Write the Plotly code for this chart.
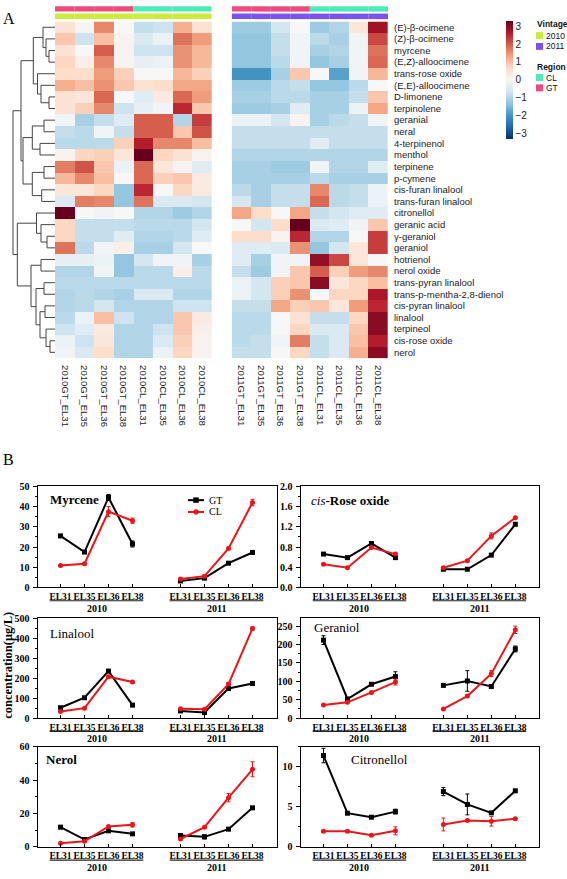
import plotly.graph_objects as go

W, H = 567, 879
SANS = "Liberation Sans, Arial, sans-serif"
SERIF = "Liberation Serif, Times New Roman, serif"

# ---------------- Panel A data ----------------
COMPOUNDS = [
    "(E)-β-ocimene", "(Z)-β-ocimene", "myrcene", "(E,Z)-alloocimene", "trans-rose oxide",
    "(E,E)-alloocimene", "D-limonene", "terpinolene", "geranial", "neral", "4-terpinenol",
    "menthol", "terpinene", "p-cymene", "cis-furan linalool", "trans-furan linalool",
    "citronellol", "geranic acid", "γ-geraniol", "geraniol", "hotrienol", "nerol oxide",
    "trans-pyran linalool", "trans-p-mentha-2,8-dienol", "cis-pyran linalool", "linalool",
    "terpineol", "cis-rose oxide", "nerol",
]
SAMPLES_2010 = ["2010GT_EL31", "2010GT_EL35", "2010GT_EL36", "2010GT_EL38",
                "2010CL_EL31", "2010CL_EL35", "2010CL_EL36", "2010CL_EL38"]
SAMPLES_2011 = ["2011GT_EL31", "2011GT_EL35", "2011GT_EL36", "2011GT_EL38",
                "2011CL_EL31", "2011CL_EL35", "2011CL_EL36", "2011CL_EL38"]
REGION_OF_COL = ["GT", "GT", "GT", "GT", "CL", "CL", "CL", "CL"]

Z_2010 = [
    [0.5, 0.05, 1.6, 0.0, -0.8, -0.7, 1.2, 0.5],
    [0.9, -0.7, 1.0, 0.1, -0.5, -0.2, 1.8, 1.4],
    [0.5, 0.0, 2.0, 0.1, -0.7, -0.7, 1.5, 1.1],
    [0.7, 0.2, 1.6, 0.1, -0.3, -0.2, 1.5, 1.1],
    [0.6, 0.6, 1.4, 0.8, 0.0, 0.0, 1.1, 0.8],
    [1.2, 1.0, 1.5, 0.9, 0.5, 0.6, 1.3, 1.3],
    [0.5, 0.4, 1.9, 0.0, -0.4, 0.3, 1.9, 1.4],
    [0.5, 0.8, 1.6, -0.7, -0.3, -0.1, 2.5, 0.9],
    [-0.1, -1.1, -0.8, -0.4, 2.0, 2.0, -1.0, 2.3],
    [-0.8, -0.9, -0.1, -0.8, 2.0, 2.0, 0.9, 2.1],
    [-0.9, -0.9, -0.9, 0.8, 2.6, 1.6, 1.6, 1.0],
    [0.1, 0.7, 0.8, 0.4, 3.3, 0.7, 0.5, 0.1],
    [1.7, 2.1, 0.9, -0.2, 1.9, 0.4, 0.1, -0.4],
    [1.1, 1.6, 1.0, 0.0, 1.9, 0.8, 0.9, 0.3],
    [0.4, 0.4, 0.7, -1.3, 2.5, 0.0, 0.7, 0.3],
    [-0.5, 1.7, 1.6, -1.3, 1.8, -0.5, -0.5, -0.6],
    [3.3, 0.0, -0.1, 0.0, -1.0, -1.0, -1.2, -1.0],
    [0.7, -0.8, -0.8, -0.8, -0.9, -0.9, -0.9, -0.6],
    [0.7, -0.8, -0.8, -0.4, -1.0, -1.0, -0.9, -0.4],
    [1.8, -0.9, -0.1, 0.2, -1.1, -1.1, -0.6, 0.0],
    [-0.3, -0.3, -0.2, -1.3, -0.6, -0.1, -0.1, -1.1],
    [-1.0, -1.0, -0.1, -1.3, -0.9, -0.9, 0.2, -0.9],
    [-0.9, -0.9, -0.9, -0.9, -0.9, -0.9, -0.9, -0.9],
    [-1.0, -0.9, -1.0, -1.1, -0.5, -0.5, -1.0, -1.0],
    [-1.0, -0.9, -0.6, -1.0, -1.0, -1.0, -0.7, -0.7],
    [-0.9, -0.2, 1.0, -0.7, -1.0, -1.0, 0.9, 0.3],
    [-0.7, -0.4, 0.3, -1.0, -1.0, -0.7, 0.9, 0.2],
    [-0.2, -0.7, 0.4, -1.0, -1.0, -0.5, 0.8, 0.1],
    [-0.1, -0.5, 0.6, -1.0, -1.0, -0.2, 0.7, 0.1],
]
Z_2011 = [
    [-1.2, -1.2, -0.6, 0.0, -1.2, -1.0, 0.4, 2.8],
    [-1.3, -1.3, -0.8, -0.1, -0.9, -1.1, -0.1, 2.2],
    [-1.3, -1.3, -0.8, -0.1, -1.1, -1.0, -0.1, 1.8],
    [-1.3, -1.3, -0.9, -0.1, -1.3, -1.1, -0.1, 1.9],
    [-2.0, -2.0, -1.1, 0.9, 0.0, -1.8, -0.1, 1.1],
    [-1.2, -1.2, -0.9, -0.8, -1.3, -1.3, -0.9, 0.0],
    [-1.1, -1.1, -0.9, -0.9, -1.1, -1.1, -0.8, 0.9],
    [-1.2, -1.2, -1.1, -0.4, -1.1, -1.1, -0.2, 1.3],
    [-0.2, -0.2, -0.6, 0.1, -1.1, -0.9, -0.8, -0.1],
    [-0.8, -0.8, -0.8, -0.8, -0.8, -0.8, -0.8, -0.8],
    [-0.8, -0.8, -0.8, -0.8, -0.4, -0.8, -0.8, -0.8],
    [-1.0, -1.0, -1.0, -1.0, -1.0, -1.0, -1.0, -1.0],
    [-1.1, -1.1, -1.2, -1.2, -0.1, -1.0, -1.0, -0.4],
    [-1.1, -1.1, -1.1, -1.1, -0.9, -1.1, -1.1, -1.1],
    [-0.9, -1.1, -0.8, -0.8, 1.6, -0.9, -0.8, -0.2],
    [-0.6, -1.1, -0.8, -0.8, 1.9, -0.9, -0.8, -0.2],
    [1.3, 0.6, 0.0, 1.3, -0.8, -0.6, -0.4, -0.4],
    [0.0, -0.6, 0.6, 3.4, -0.5, -0.4, -0.1, 0.9],
    [0.6, 0.6, 0.1, 2.5, -1.0, -1.0, 0.0, 2.3],
    [-0.4, -0.4, -0.5, 1.5, -1.3, -0.6, 0.4, 2.3],
    [-0.4, -1.1, -0.1, -0.1, 2.9, 2.2, 0.4, 0.0],
    [-0.8, -1.2, -0.1, 0.9, 2.0, 0.8, 1.4, 1.6],
    [-0.2, -0.6, 0.8, 0.9, 3.0, 0.4, 0.7, 1.0],
    [-0.2, -0.6, 0.8, 1.5, 0.0, 0.7, 0.7, 2.7],
    [-0.8, -0.8, 1.3, 0.8, 0.9, 0.4, 1.4, 2.5],
    [-0.9, -0.9, 0.0, 0.5, -0.8, -0.8, 0.7, 3.0],
    [-0.9, -0.9, 0.0, 0.7, -0.5, -0.5, 0.9, 3.0],
    [-0.9, -0.8, -0.1, 1.7, -0.8, -0.5, 1.0, 2.6],
    [-0.8, -0.8, 0.0, 0.7, -0.8, -0.5, 1.2, 3.0],
]
CB_TICKS = [3, 2, 1, 0, -1, -2, -3]
Z_LIMIT = 3.3
RDBU = ["#053061", "#2166ac", "#4393c3", "#92c5de", "#d1e5f0", "#f7f7f7",
        "#fddbc7", "#f4a582", "#d6604d", "#b2182b", "#67001f"]
REGION_COLORS = {"GT": "#EE4A7E", "CL": "#4BEBBA"}
VINTAGE_COLORS = {"2010": "#CDEB3C", "2011": "#7A52EE"}

# row dendrogram merges: (child a, child b, height); ids >= 29 refer to earlier merges
DENDRO_MERGES = [
    (2, 3, 6), (1, 29, 9), (0, 30, 12), (6, 7, 6), (5, 32, 14), (4, 33, 17.5),
    (31, 34, 21.7), (8, 9, 11), (10, 11, 15), (36, 37, 22.7), (12, 13, 11),
    (14, 15, 13.3), (39, 40, 22.7), (38, 41, 32), (35, 42, 34), (18, 19, 8),
    (17, 44, 14), (16, 45, 18.5), (20, 21, 14), (22, 23, 11), (24, 25, 10),
    (27, 28, 5), (26, 50, 9), (49, 51, 15), (48, 52, 19), (47, 53, 24),
    (46, 54, 37.7), (43, 55, 42),
]

# ---------------- Panel B data ----------------
STAGES = ["EL31", "EL35", "EL36", "EL38"]
YEARS = ["2010", "2011"]

MYRCENE_GT = [25.5, 17.5, 44.5, 21.5, 3.2, 4.6, 12.0, 17.3]
MYRCENE_GT_ERR = [0.5, 0.5, 1.5, 1.5, 0.3, 0.4, 0.6, 0.6]
MYRCENE_CL = [10.8, 11.7, 37.5, 33.0, 4.2, 5.6, 19.3, 42.0]
MYRCENE_CL_ERR = [0.3, 0.5, 2.5, 1.3, 0.3, 0.5, 0.6, 1.6]

ROSE_GT = [0.66, 0.59, 0.87, 0.59, 0.36, 0.36, 0.64, 1.25]
ROSE_GT_ERR = [0.01, 0.01, 0.02, 0.02, 0.01, 0.01, 0.01, 0.03]
ROSE_CL = [0.46, 0.39, 0.79, 0.66, 0.39, 0.53, 1.02, 1.38]
ROSE_CL_ERR = [0.01, 0.01, 0.02, 0.02, 0.02, 0.02, 0.06, 0.02]

LINALOOL_GT = [52, 102, 235, 65, 36, 28, 148, 173]
LINALOOL_GT_ERR = [3, 3, 6, 3, 2, 2, 5, 3]
LINALOOL_CL = [33, 50, 207, 180, 47, 45, 170, 448]
LINALOOL_CL_ERR = [2, 3, 6, 4, 3, 3, 6, 8]

GERANIOL_GT = [212, 52, 92, 113, 89, 101, 86, 188]
GERANIOL_GT_ERR = [12, 3, 3, 13, 2, 28, 3, 8]
GERANIOL_CL = [36, 43, 70, 98, 25, 60, 121, 240]
GERANIOL_CL_ERR = [2, 2, 2, 8, 1, 2, 8, 10]

NEROL_GT = [11.8, 4.4, 9.6, 7.8, 6.8, 6.0, 10.6, 23.4]
NEROL_GT_ERR = [0.8, 0.4, 0.4, 0.4, 0.6, 1.2, 0.4, 0.4]
NEROL_CL = [2.1, 3.3, 12.2, 13.2, 4.7, 11.8, 29.5, 46.5]
NEROL_CL_ERR = [0.2, 0.3, 0.6, 1.3, 0.4, 0.4, 2.5, 4.5]

CITRONELLOL_GT = [11.4, 4.2, 3.7, 4.4, 6.9, 5.3, 4.25, 7.0]
CITRONELLOL_GT_ERR = [0.9, 0.1, 0.1, 0.3, 0.5, 1.3, 0.1, 0.15]
CITRONELLOL_CL = [1.95, 1.95, 1.45, 2.0, 2.8, 3.3, 3.2, 3.5]
CITRONELLOL_CL_ERR = [0.1, 0.1, 0.1, 0.5, 0.8, 0.1, 0.6, 0.1]

GT_COLOR = "#000000"
CL_COLOR = "#E8161B"

PANELS = [
    dict(title="<b>Myrcene</b>", gt=MYRCENE_GT, gte=MYRCENE_GT_ERR, cl=MYRCENE_CL, cle=MYRCENE_CL_ERR,
         yr=[0, 50], dt=10, fmt="", col=0, row=0, tx=48, ty=500),
    dict(title="<i>cis</i><b>-Rose oxide</b>", gt=ROSE_GT, gte=ROSE_GT_ERR, cl=ROSE_CL, cle=ROSE_CL_ERR,
         yr=[0, 2.0], dt=0.4, fmt=".1f", col=1, row=0, tx=309, ty=501.5),
    dict(title="Linalool", gt=LINALOOL_GT, gte=LINALOOL_GT_ERR, cl=LINALOOL_CL, cle=LINALOOL_CL_ERR,
         yr=[0, 500], dt=100, fmt="", col=0, row=1, tx=48, ty=636.5),
    dict(title="Geraniol", gt=GERANIOL_GT, gte=GERANIOL_GT_ERR, cl=GERANIOL_CL, cle=GERANIOL_CL_ERR,
         yr=[0, 272], dt=50, fmt="", col=1, row=1, tx=311.5, ty=630),
    dict(title="<b>Nerol</b>", gt=NEROL_GT, gte=NEROL_GT_ERR, cl=NEROL_CL, cle=NEROL_CL_ERR,
         yr=[0, 60], dt=20, fmt="", col=0, row=2, tx=44, ty=764),
    dict(title="Citronellol", gt=CITRONELLOL_GT, gte=CITRONELLOL_GT_ERR, cl=CITRONELLOL_CL,
         cle=CITRONELLOL_CL_ERR, yr=[0, 12.5], dt=5, fmt="", col=1, row=2, tx=349, ty=764),
]


def px(x):
    return x / W


def py(y):
    return 1 - y / H


fig = go.Figure()
shapes = []
annotations = []

# ---------- heatmaps ----------
n_rows = len(COMPOUNDS)
HM_TOP, HM_BOT = 15.7, 357.0
colorscale = [[i / (len(RDBU) - 1), c] for i, c in enumerate(RDBU)]
rows_idx = list(range(n_rows))

fig.add_trace(go.Heatmap(
    z=Z_2010, x=list(range(len(SAMPLES_2010))), y=rows_idx, xaxis="x", yaxis="y",
    colorscale=colorscale, zmin=-Z_LIMIT, zmax=Z_LIMIT, showscale=True,
    colorbar=dict(x=px(506), xanchor="left", y=py(15), yanchor="top", len=118, lenmode="pixels",
                  thickness=7, thicknessmode="pixels", xpad=0, ypad=0, outlinewidth=0,
                  tickvals=CB_TICKS, ticks="", tickfont=dict(family=SANS, size=10, color="#222")),
    hoverinfo="skip"))
fig.add_trace(go.Heatmap(
    z=Z_2011, x=list(range(len(SAMPLES_2011))), y=rows_idx, xaxis="x2", yaxis="y2",
    colorscale=colorscale, zmin=-Z_LIMIT, zmax=Z_LIMIT, showscale=False, hoverinfo="skip"))

# ---------- dendrogram ----------
pos = {i: (float(i), 0.0) for i in range(n_rows)}
dx, dy = [], []
for k, (a, b, h) in enumerate(DENDRO_MERGES):
    ya, ha = pos[a]
    yb, hb = pos[b]
    dx += [ha, h, h, hb, None]
    dy += [ya, ya, yb, yb, None]
    pos[n_rows + k] = ((ya + yb) / 2, h)
fig.add_trace(go.Scatter(x=dx, y=dy, mode="lines", xaxis="x3", yaxis="y3",
                         line=dict(color="#444444", width=1), hoverinfo="skip", showlegend=False))

# ---------- annotation bars ----------
for xref, year in (("x", "2010"), ("x2", "2011")):
    for i, reg in enumerate(REGION_OF_COL):
        shapes.append(dict(type="rect", xref=xref, yref="paper", x0=i - 0.5, x1=i + 0.5,
                           y0=py(5.7), y1=py(0.3), fillcolor=REGION_COLORS[reg], line_width=0))
        shapes.append(dict(type="rect", xref=xref, yref="paper", x0=i - 0.5, x1=i + 0.5,
                           y0=py(13.3), y1=py(7.7), fillcolor=VINTAGE_COLORS[year], line_width=0))

# annotation legend
leg_items = [("Vintage", None, 18), ("2010", VINTAGE_COLORS["2010"], 30), ("2011", VINTAGE_COLORS["2011"], 41),
             ("Region", None, 62), ("CL", REGION_COLORS["CL"], 72.5), ("GT", REGION_COLORS["GT"], 83)]
for text, color, yy in leg_items:
    if color is None:
        annotations.append(dict(text="<b>%s</b>" % text, x=px(534.5), y=py(yy), xref="paper", yref="paper",
                                xanchor="left", yanchor="middle", showarrow=False,
                                font=dict(family=SANS, size=8.5, color="#111")))
    else:
        shapes.append(dict(type="rect", xref="paper", yref="paper", x0=px(536), x1=px(543),
                           y0=py(yy + 3.5), y1=py(yy - 3.5), fillcolor=color, line_width=0))
        annotations.append(dict(text=text, x=px(544), y=py(yy), xref="paper", yref="paper",
                                xanchor="left", yanchor="middle", showarrow=False,
                                font=dict(family=SANS, size=8.5, color="#111")))

layout_axes = {}
hm_dom_y = [py(HM_BOT), py(HM_TOP)]
layout_axes["xaxis"] = dict(domain=[px(55), px(211.7)], range=[-0.5, 7.5], anchor="y",
                            tickvals=list(range(8)), ticktext=SAMPLES_2010, tickangle=90,
                            ticks="", showgrid=False, zeroline=False, showline=False,
                            tickfont=dict(family=SANS, size=9.5, color="#1a1a1a"), ticklabelstandoff=6)
layout_axes["yaxis"] = dict(domain=hm_dom_y, range=[n_rows - 0.5, -0.5], anchor="x",
                            showticklabels=False, showgrid=False, zeroline=False, showline=False)
layout_axes["xaxis2"] = dict(domain=[px(231.7), px(388)], range=[-0.5, 7.5], anchor="y2",
                             tickvals=list(range(8)), ticktext=SAMPLES_2011, tickangle=90,
                             ticks="", showgrid=False, zeroline=False, showline=False,
                             tickfont=dict(family=SANS, size=9.5, color="#1a1a1a"), ticklabelstandoff=6)
layout_axes["yaxis2"] = dict(domain=hm_dom_y, range=[n_rows - 0.5, -0.5], anchor="x2", side="right",
                             tickvals=rows_idx, ticktext=COMPOUNDS, ticks="", showgrid=False,
                             zeroline=False, showline=False,
                             tickfont=dict(family=SANS, size=9.5, color="#1a1a1a"), ticklabelstandoff=5)
layout_axes["xaxis3"] = dict(domain=[0, px(55)], range=[55, 0], anchor="y3", visible=False)
layout_axes["yaxis3"] = dict(domain=hm_dom_y, range=[n_rows - 0.5, -0.5], anchor="x3", visible=False)

# ---------- panel B ----------
COL_DOM = [(37.7, 276.5), (300.7, 539.3)]
ROW_DOM = [(487, 589.5), (620.5, 722), (751, 852.5)]
positions = [s + 1 + 5 * yi for yi in range(len(YEARS)) for s in range(len(STAGES))]
tick_text = [STAGES[s] for yi in range(len(YEARS)) for s in range(len(STAGES))]

for p_i, p in enumerate(PANELS):
    n = p_i + 4
    xa, ya = "x%d" % n, "y%d" % n
    c0, c1 = COL_DOM[p["col"]]
    r0, r1 = ROW_DOM[p["row"]]
    ph = r1 - r0
    for vals, errs, color, sym in ((p["gt"], p["gte"], GT_COLOR, "square"),
                                   (p["cl"], p["cle"], CL_COLOR, "circle")):
        for yi in range(len(YEARS)):
            sl = slice(yi * 4, yi * 4 + 4)
            fig.add_trace(go.Scatter(
                x=positions[sl], y=vals[sl], xaxis=xa, yaxis=ya, mode="lines+markers",
                line=dict(color=color, width=2), marker=dict(symbol=sym, size=5, color=color),
                error_y=dict(type="data", array=errs[sl], visible=True, color=color, thickness=1, width=2),
                showlegend=False, hoverinfo="skip", cliponaxis=False))
    layout_axes["xaxis%d" % n] = dict(
        domain=[px(c0), px(c1)], range=[0.05, 10.0], anchor=ya, tickvals=positions, ticktext=tick_text,
        tickangle=0, ticks="inside", ticklen=3, tickcolor="black", showline=True, mirror=True,
        linecolor="black", linewidth=1.3, showgrid=False, zeroline=False,
        tickfont=dict(family=SERIF, size=9.5, color="black", weight="bold"), ticklabelstandoff=0)
    layout_axes["yaxis%d" % n] = dict(
        domain=[py(r1), py(r0)], range=p["yr"], dtick=p["dt"], tick0=0, tickformat=p["fmt"], anchor=xa,
        ticks="outside", ticklen=4, tickcolor="black", showline=True, mirror=True, linecolor="black",
        linewidth=1.3, showgrid=False, zeroline=False,
        minor=dict(dtick=p["dt"] / 2, ticks="outside", ticklen=2, tickcolor="black"),
        tickfont=dict(family=SERIF, size=10, color="black", weight="bold"), ticklabelstandoff=1)
    # year underline + year labels
    for yi, yr in enumerate(YEARS):
        xc = 2.5 + 5 * yi
        shapes.append(dict(type="line", xref=xa, yref="%s domain" % ya, x0=xc - 1.95, x1=xc + 1.95,
                           y0=-13.5 / ph, y1=-13.5 / ph, line=dict(color="#222", width=1.2)))
        annotations.append(dict(text="<b>%s</b>" % yr, x=xc, y=-21 / ph, xref=xa, yref="%s domain" % ya,
                                xanchor="center", yanchor="middle", showarrow=False,
                                font=dict(family=SERIF, size=10, color="black")))
    annotations.append(dict(text=p["title"], x=px(p["tx"]), y=py(p["ty"]), xref="paper", yref="paper",
                            xanchor="left", yanchor="middle", showarrow=False,
                            font=dict(family=SERIF, size=13, color="black")))

# GT / CL legend inside the Myrcene panel
for name, color, sym, yy in (("GT", GT_COLOR, "rect", 501), ("CL", CL_COLOR, "circle", 513)):
    shapes.append(dict(type="line", xref="paper", yref="paper", x0=px(188), x1=px(204), y0=py(yy), y1=py(yy),
                       line=dict(color=color, width=2)))
    shapes.append(dict(type=sym, xref="paper", yref="paper", x0=px(193.5), x1=px(198.5),
                       y0=py(yy + 2.5), y1=py(yy - 2.5), fillcolor=color, line=dict(color=color, width=0.5)))
    annotations.append(dict(text=name, x=px(207), y=py(yy), xref="paper", yref="paper", xanchor="left",
                            yanchor="middle", showarrow=False, font=dict(family=SERIF, size=10, color="black")))

annotations.append(dict(text="<b>concentration(μg/L)</b>", x=px(8), y=py(669), xref="paper", yref="paper",
                        textangle=-90, xanchor="center", yanchor="middle", showarrow=False,
                        font=dict(family=SERIF, size=12.5, color="black")))
annotations.append(dict(text="A", x=px(8.5), y=py(13), xref="paper", yref="paper", xanchor="center",
                        yanchor="middle", showarrow=False, font=dict(family=SERIF, size=16, color="black")))
annotations.append(dict(text="B", x=px(8.5), y=py(460), xref="paper", yref="paper", xanchor="center",
                        yanchor="middle", showarrow=False, font=dict(family=SERIF, size=16, color="black")))

fig.update_layout(width=W, height=H, margin=dict(l=0, r=0, t=0, b=0), paper_bgcolor="white",
                  plot_bgcolor="white", showlegend=False, shapes=shapes, annotations=annotations,
                  **layout_axes)
fig.write_html("out.html", config={"displayModeBar": False},
               post_script="document.body.style.margin='0';document.body.style.overflow='hidden';")
